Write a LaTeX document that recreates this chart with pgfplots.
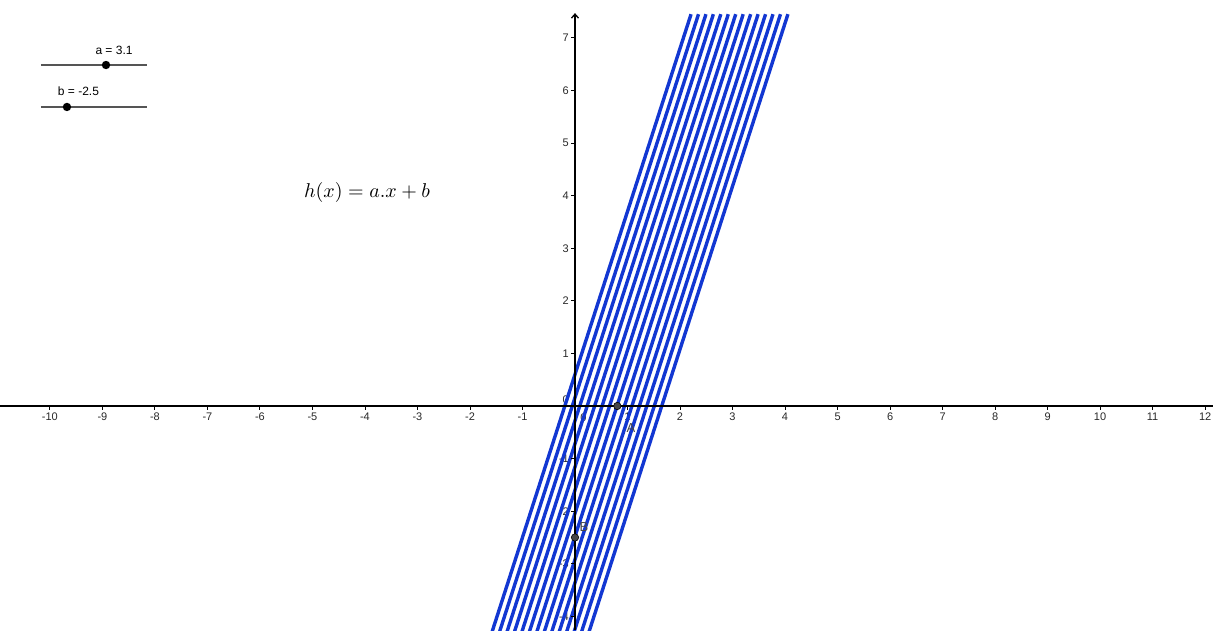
\documentclass[border=0pt]{standalone}
\usepackage{fontspec}
\setmainfont{Liberation Sans}
\usepackage{pgfplots}
\pgfplotsset{compat=1.18}
\usetikzlibrary{arrows.meta}
\definecolor{lineblue}{RGB}{18,55,210}
\definecolor{tickgray}{RGB}{40,40,40}
\definecolor{slidergray}{RGB}{85,85,85}
\definecolor{ptgray}{RGB}{70,70,70}
\begin{document}
\begin{tikzpicture}
\begin{axis}[
  scale only axis, width=1213pt, height=630pt,
  xmin=-10.95, xmax=12.15, ymin=-4.26, ymax=7.72,
  axis lines=none, clip=true,
  fam/.style={lineblue, line width=3.4pt, no marks},
]
% tick labels (under the lines)
\pgfplotsinvokeforeach{-10,-9,-8,-7,-6,-5,-4,-3,-2,-1,1,2,3,4,5,6,7,8,9,10,11,12}{
  \node[anchor=north, inner sep=0pt, text=tickgray, font=\fontsize{11}{13}\selectfont] at (axis cs:#1,0) [yshift=-6.5pt] {#1};
}
\pgfplotsinvokeforeach{-4,-3,-2,-1,1,2,3,4,5,6,7}{
  \node[anchor=east, inner sep=0pt, text=tickgray, font=\fontsize{11}{13}\selectfont] at (axis cs:0,#1) [xshift=-6pt] {#1};
}
\node[anchor=east, inner sep=0pt, text=tickgray, font=\fontsize{11}{13}\selectfont] at (axis cs:0,0) [xshift=-6pt, yshift=6pt] {0};
\node[inner sep=0pt, text=tickgray, font=\fontsize{11}{13}\selectfont] at (axis cs:0.16,-0.22) {0};

% family of lines h(x) = 3.1 x + b
\addplot[fam] coordinates {(-1.581,-4.3) (2.210,7.45)};
\addplot[fam] coordinates {(-1.439,-4.3) (2.352,7.45)};
\addplot[fam] coordinates {(-1.297,-4.3) (2.494,7.45)};
\addplot[fam] coordinates {(-1.155,-4.3) (2.635,7.45)};
\addplot[fam] coordinates {(-1.013,-4.3) (2.777,7.45)};
\addplot[fam] coordinates {(-0.871,-4.3) (2.919,7.45)};
\addplot[fam] coordinates {(-0.729,-4.3) (3.061,7.45)};
\addplot[fam] coordinates {(-0.587,-4.3) (3.203,7.45)};
\addplot[fam] coordinates {(-0.445,-4.3) (3.345,7.45)};
\addplot[fam] coordinates {(-0.303,-4.3) (3.487,7.45)};
\addplot[fam] coordinates {(-0.161,-4.3) (3.629,7.45)};
\addplot[fam] coordinates {(-0.019,-4.3) (3.771,7.45)};
\addplot[fam] coordinates {(0.123,-4.3) (3.913,7.45)};
\addplot[fam] coordinates {(0.265,-4.3) (4.055,7.45)};

% axes
\draw[black, line width=1.3pt] (axis cs:-10.95,0) -- (axis cs:12.15,0);
\draw[black, line width=1.3pt, -{Straight Barb[length=4pt,width=7pt]}] (axis cs:0,-4.26) -- (axis cs:0,7.47);
\pgfplotsinvokeforeach{-10,-9,-8,-7,-6,-5,-4,-3,-2,-1,1,2,3,4,5,6,7,8,9,10,11,12}{
  \draw[black, line width=0.9pt] (axis cs:#1,0) -- ++(0pt,-4pt);
}
\pgfplotsinvokeforeach{-4,-3,-2,-1,1,2,3,4,5,6,7}{
  \draw[black, line width=0.9pt] (axis cs:0,#1) -- ++(-4pt,0pt);
}

% points A and B
\addplot[only marks, mark=*, mark size=3.7pt, mark options={fill=ptgray, draw=black, line width=0.6pt}] coordinates {(0.806,0) (0,-2.5)};
\node[text=ptgray, font=\fontsize{13}{15}\selectfont, inner sep=0pt] at (rel axis cs:0.5202,0.3206) {A};
\node[text=ptgray, font=\fontsize{13}{15}\selectfont, inner sep=0pt] at (rel axis cs:0.4815,0.1635) {B};

% sliders
\draw[slidergray, line width=1.8pt] (rel axis cs:0.0338,0.8968) -- (rel axis cs:0.1212,0.8968);
\fill[black] (rel axis cs:0.0874,0.8968) circle (4.2pt);
\node[font=\fontsize{12}{14}\selectfont, inner sep=0pt] at (rel axis cs:0.0940,0.9198) {a = 3.1};
\draw[slidergray, line width=1.8pt] (rel axis cs:0.0338,0.8302) -- (rel axis cs:0.1212,0.8302);
\fill[black] (rel axis cs:0.0552,0.8302) circle (4.2pt);
\node[font=\fontsize{12}{14}\selectfont, inner sep=0pt] at (rel axis cs:0.0647,0.8548) {b = -2.5};

% formula
\node[font=\fontsize{10}{12}\selectfont, inner sep=0pt, scale=2.0] at (rel axis cs:0.3026,0.6937) {$h(x) = a.x + b$};
\end{axis}
\pgfresetboundingbox
\path (current axis.south west) rectangle (current axis.north east);
\end{tikzpicture}
\end{document}
